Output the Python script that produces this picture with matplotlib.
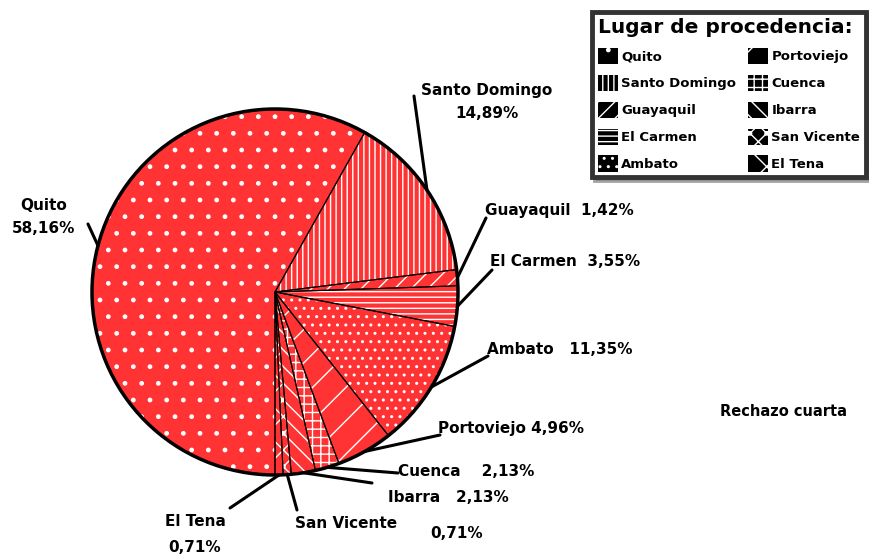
import numpy as np
import matplotlib
matplotlib.use("Agg")
import matplotlib.pyplot as plt
from matplotlib.patches import Patch, Circle

# Data
categories = ["Quito", "Santo Domingo", "Guayaquil", "El Carmen", "Ambato",
              "Portoviejo", "Cuenca", "Ibarra", "San Vicente", "El Tena"]
percents = [58.16, 14.89, 1.42, 3.55, 11.35, 4.96, 2.13, 2.13, 0.71, 0.71]
pct_labels = ["58,16%", "14,89%", "1,42%", "3,55%", "11,35%", "4,96%",
              "2,13%", "2,13%", "0,71%", "0,71%"]
hatches = [".", "|||", "//", "---", "..", "/", "++", "\\\\", "xx.", "x"]
legend_title = "Lugar de procedencia:"
note_text = "Rechazo cuarta"

W, H = 869, 559
fig = plt.figure(figsize=(W / 100, H / 100), dpi=100)
ax = fig.add_axes([0, 0, 1, 1])

RED = "#FF3333"
cx, cy, R = 275, H - 292, 183
plt.rcParams["hatch.linewidth"] = 1.0

# fill + white hatches
wedges, _ = ax.pie(percents, startangle=-90, counterclock=False, center=(cx, cy),
                   radius=R, colors=[RED] * len(percents),
                   wedgeprops=dict(edgecolor="white", linewidth=0), frame=True)
for w, h in zip(wedges, hatches):
    w.set_hatch(h)
# black outlines
ax.pie(percents, startangle=-90, counterclock=False, center=(cx, cy), radius=R,
       colors=["none"] * len(percents),
       wedgeprops=dict(edgecolor="black", linewidth=0.8, fill=False), frame=True)
ax.add_patch(Circle((cx, cy), R, fill=False, edgecolor="black", linewidth=2.5, zorder=5))
ax.set_xlim(0, W)
ax.set_ylim(0, H)
ax.set_aspect("equal")
ax.axis("off")

# label layout (pixel positions, y from top)
label_layout = {
    "Quito": dict(text="Quito\n58,16%", xy=(12, 217), ha="left", line=(88, 224)),
    "Santo Domingo": dict(text="Santo Domingo\n14,89%", xy=(487, 102), ha="center", line=(414, 96)),
    "Guayaquil": dict(text="Guayaquil  1,42%", xy=(485, 210), ha="left", line=(486, 218)),
    "El Carmen": dict(text="El Carmen  3,55%", xy=(490, 261), ha="left", line=(492, 270)),
    "Ambato": dict(text="Ambato   11,35%", xy=(487, 350), ha="left", line=(488, 356)),
    "Portoviejo": dict(text="Portoviejo 4,96%", xy=(438, 428), ha="left", line=(440, 435)),
    "Cuenca": dict(text="Cuenca    2,13%", xy=(398, 472), ha="left", line=(398, 473)),
    "Ibarra": dict(text="Ibarra   2,13%", xy=(388, 497), ha="left", line=(372, 483)),
    "San Vicente": dict(text="San Vicente", xy=(295, 524), ha="left", line=(297, 510)),
    "El Tena": dict(text="El Tena", xy=(165, 522), ha="left", line=(230, 508)),
}
extra_texts = [("0,71%", (430, 533)), ("0,71%", (168, 548))]

font = dict(family="DejaVu Sans", fontweight="heavy", fontsize=11, color="black")

angles = []
start = -90.0
for p in percents:
    span = p / sum(percents) * 360.0
    angles.append(start - span / 2)
    start -= span

for cat, ang in zip(categories, angles):
    lay = label_layout[cat]
    tx, ty = lay["xy"]
    ax.text(tx, H - ty, lay["text"], ha=lay["ha"], va="center",
            multialignment="center", linespacing=1.6, **font)
    ex = cx + R * np.cos(np.radians(ang))
    ey = cy + R * np.sin(np.radians(ang))
    lx, ly = lay["line"]
    ax.plot([ex, lx], [ey, H - ly], color="black", linewidth=2.2,
            solid_capstyle="round", zorder=6)

for t, (tx, ty) in extra_texts:
    ax.text(tx, H - ty, t, ha="left", va="center", **font)

ax.text(720, H - 412, note_text, ha="left", va="center",
        family="DejaVu Sans", fontweight="heavy", fontsize=10.5)

# legend
handles = [Patch(facecolor="black", edgecolor="white", hatch=h, linewidth=0)
           for h in hatches]
leg = ax.legend(handles, categories, ncol=2, loc="upper right",
                bbox_to_anchor=(866 / W, 1 - 12 / H), bbox_transform=fig.transFigure,
                borderaxespad=0, title=legend_title, frameon=True, fancybox=False,
                shadow=True, prop=dict(family="DejaVu Sans", weight="heavy", size=9.5),
                title_fontproperties=dict(family="DejaVu Sans", weight="heavy", size=14.5),
                handlelength=1.5, handleheight=1.5, handletextpad=0.25,
                columnspacing=0.9, labelspacing=0.82, borderpad=0.45)
leg._legend_box.align = "left"
frame = leg.get_frame()
frame.set_edgecolor("#333333")
frame.set_linewidth(3.5)

fig.savefig("out.png", dpi=100)
